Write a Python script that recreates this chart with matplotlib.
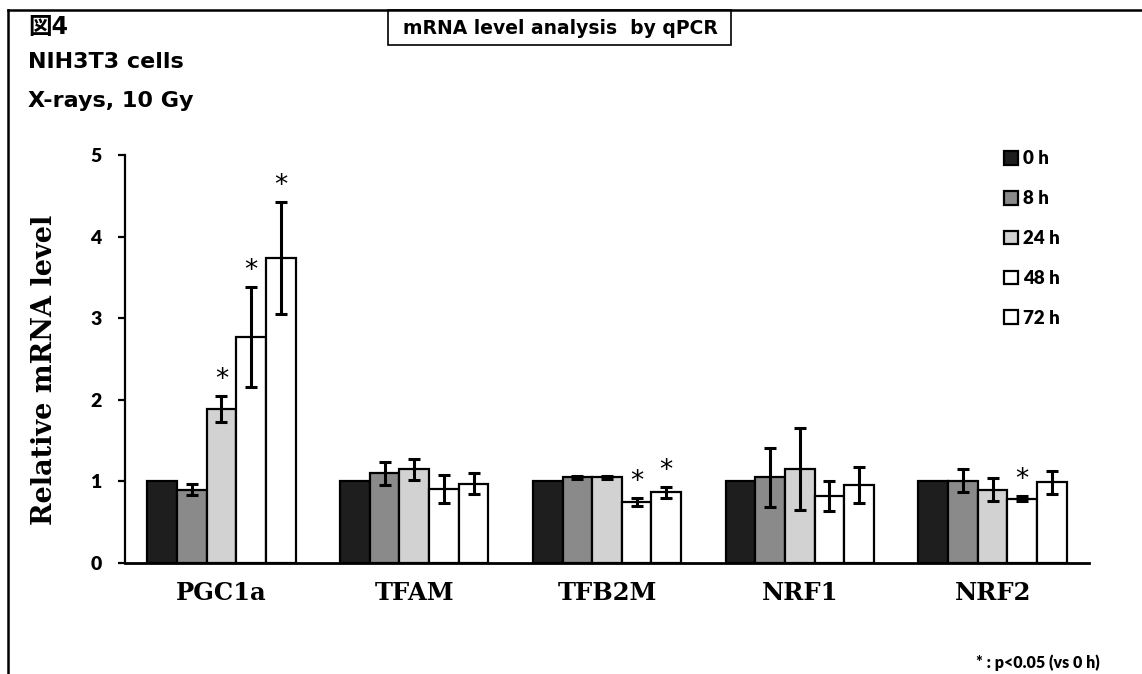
import numpy as np
import matplotlib
matplotlib.use("Agg")
import matplotlib.pyplot as plt
from matplotlib.patches import Rectangle
from matplotlib.lines import Line2D

# --- data -------------------------------------------------------------
genes = ["PGC1a", "TFAM", "TFB2M", "NRF1", "NRF2"]
timepoints = ["0 h", "8 h", "24 h", "48 h", "72 h"]

# relative mRNA level, one list per time point (order follows `genes`)
level_0h = [1.00, 1.00, 1.00, 1.00, 1.00]
level_8h = [0.90, 1.10, 1.05, 1.05, 1.01]
level_24h = [1.89, 1.15, 1.05, 1.15, 0.90]
level_48h = [2.77, 0.91, 0.75, 0.82, 0.79]
level_72h = [3.74, 0.97, 0.865, 0.955, 0.99]

err_0h = [0.0, 0.0, 0.0, 0.0, 0.0]
err_8h = [0.07, 0.14, 0.02, 0.36, 0.14]
err_24h = [0.16, 0.13, 0.02, 0.50, 0.14]
err_48h = [0.61, 0.17, 0.05, 0.18, 0.03]
err_72h = [0.69, 0.13, 0.065, 0.22, 0.14]

# p<0.05 vs 0 h : (gene index, time-point index)
significant = [(0, 2), (0, 3), (0, 4), (2, 3), (2, 4), (4, 3)]

y_ticks = [0, 1, 2, 3, 4, 5]

levels = [level_0h, level_8h, level_24h, level_48h, level_72h]
errors = [err_0h, err_8h, err_24h, err_48h, err_72h]
fills = ["#1e1e1e", "#8a8a8a", "#d2d2d2", "#ffffff", "#ffffff"]

# --- figure -----------------------------------------------------------
W, H = 1142, 674
fig = plt.figure(figsize=(W / 100, H / 100), dpi=100)

def px_box(x0, y0, x1, y1):
    return [x0 / W, 1 - y1 / H, (x1 - x0) / W, (y1 - y0) / H]

ax = fig.add_axes(px_box(125, 155, 1089, 563))

sans_b = dict(family="Lato", weight="heavy")
heavy = dict(family=["DejaVu Sans", "Noto Sans CJK JP"], weight="bold")
serif_b = dict(family="DejaVu Serif", weight="bold")

x = np.arange(len(genes))
bw = 1 / 6.5
handles = []
for i, (vals, errs, fc) in enumerate(zip(levels, errors, fills)):
    pos = x + (i - 2) * bw
    bars = ax.bar(pos, vals, width=bw, color=fc, edgecolor="black",
                  linewidth=1.6, label=timepoints[i], zorder=2)
    handles.append(bars)
    mask = np.array(errs) > 0
    if mask.any():
        ax.errorbar(pos[mask], np.array(vals)[mask], yerr=np.array(errs)[mask],
                    fmt="none", ecolor="black", elinewidth=2.2,
                    capsize=4, capthick=2.2, zorder=3)

for g, t in significant:
    top = levels[t][g] + errors[t][g]
    ax.annotate("*", xy=(g + (t - 2) * bw, top), xytext=(0, 2),
                textcoords="offset points", ha="center", va="bottom",
                fontsize=19, family="DejaVu Sans", color="black")

ax.set_xlim(-0.5, len(genes) - 0.5)
ax.set_ylim(0, 5)
ax.set_yticks(y_ticks)
ax.set_yticklabels([str(v) for v in y_ticks], fontsize=14, **sans_b)
ax.set_xticks(x)
ax.set_xticklabels(genes, fontsize=17.5, **serif_b)
ax.tick_params(axis="x", length=0, pad=13)
ax.tick_params(axis="y", length=5, width=1.6, direction="out", pad=12)
for s in ("top", "right"):
    ax.spines[s].set_visible(False)
ax.spines["left"].set_linewidth(1.6)
ax.spines["bottom"].set_linewidth(2.0)
ax.set_ylabel("Relative mRNA level", fontsize=19.5, **serif_b)
ax.yaxis.set_label_coords(-0.07, 0.473)

leg = ax.legend(handles=handles, loc="upper left",
                bbox_to_anchor=(995 / W, 1 - 141 / H),
                bbox_transform=fig.transFigure, frameon=False,
                prop=dict(family="Lato", weight="heavy", size=13.5),
                handlelength=0.75, handleheight=0.75, handletextpad=0.25,
                labelspacing=1.22, borderpad=0)

# page frame and header
fig.add_artist(Line2D([8 / W, 8 / W], [0, 1 - 10 / H], color="black", lw=1.8))
fig.add_artist(Line2D([8 / W, 1], [1 - 10 / H, 1 - 10 / H], color="black", lw=1.8))
fig.add_artist(Rectangle((388 / W, 1 - 45 / H), (731 - 388) / W, 35 / H,
                         transform=fig.transFigure, fill=False,
                         edgecolor="black", lw=1.2))
fig.text(560 / W, 1 - 28 / H, "mRNA level analysis  by qPCR",
         ha="center", va="center", fontsize=13.5, **heavy)

fig.text(28 / W, 1 - 27 / H, "図4", ha="left", va="center", fontsize=17, **heavy)
fig.text(28 / W, 1 - 62 / H, "NIH3T3 cells", ha="left", va="center",
         fontsize=16, **heavy)
fig.text(28 / W, 1 - 101 / H, "X-rays, 10 Gy", ha="left", va="center",
         fontsize=16, **heavy)

fig.text(976 / W, 1 - 663 / H, "* : p<0.05 (vs 0 h)", ha="left", va="center",
         fontsize=11.5, **sans_b)

fig.savefig("out.png", dpi=100)
